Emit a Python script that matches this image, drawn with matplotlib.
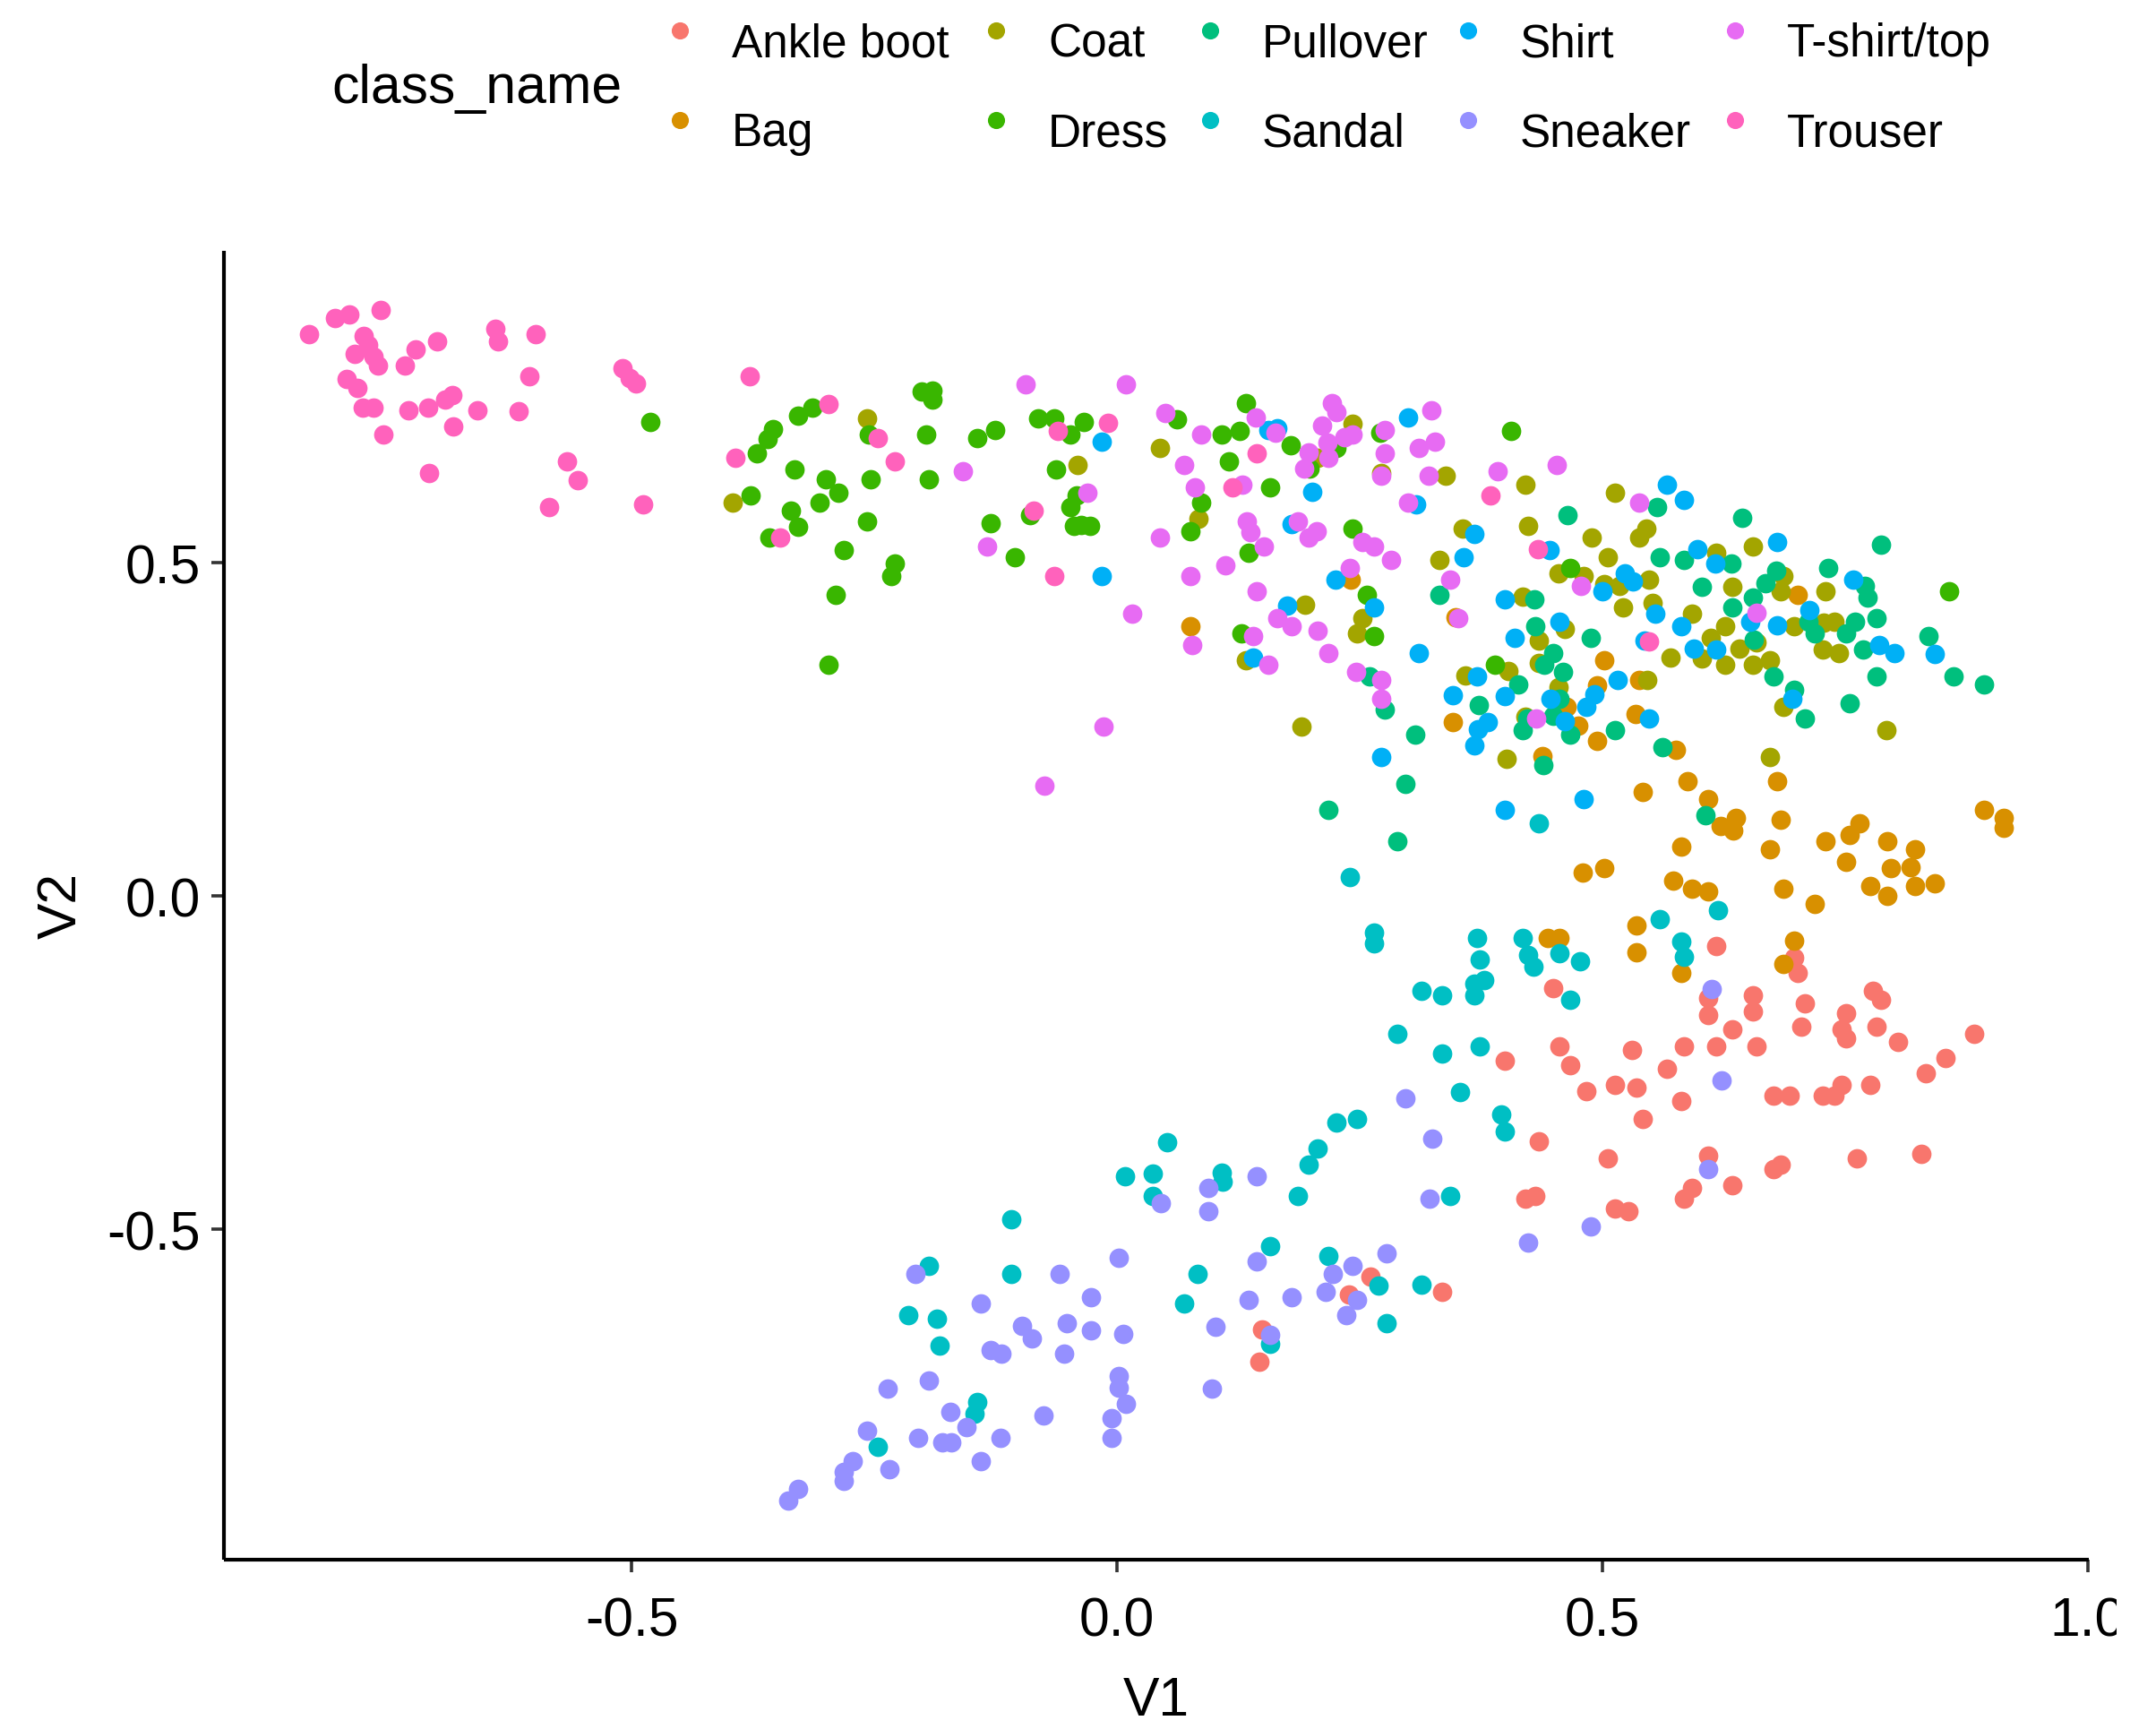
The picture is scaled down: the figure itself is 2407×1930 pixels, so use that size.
import matplotlib
matplotlib.use("Agg")
import matplotlib.pyplot as plt
from matplotlib import font_manager as fm
from matplotlib.transforms import Bbox
import numpy as np

# ---------------- data (V1, V2) per class ----------------
class_names = ["Ankle boot", "Bag", "Coat", "Dress", "Pullover",
               "Sandal", "Shirt", "Sneaker", "T-shirt/top", "Trouser"]
colors = ["#F8766D", "#D89000", "#A3A500", "#39B600", "#00BF7D",
          "#00BFC4", "#00B0F6", "#9590FF", "#E76BF3", "#FF62BC"]

ankle_boot = [
    (0.449, -0.138), (0.400, -0.247), (0.456, -0.225), (0.467, -0.253), (0.484, -0.292),
    (0.617, -0.074), (0.698, -0.092), (0.701, -0.115), (0.609, -0.153), (0.609, -0.178),
    (0.655, -0.149), (0.655, -0.173), (0.634, -0.200), (0.709, -0.160), (0.705, -0.196),
    (0.779, -0.142), (0.787, -0.155), (0.751, -0.176), (0.747, -0.200), (0.751, -0.213),
    (0.783, -0.196), (0.805, -0.218), (0.883, -0.206), (0.854, -0.243), (0.833, -0.265),
    (0.584, -0.225), (0.617, -0.225), (0.659, -0.225), (0.531, -0.231), (0.567, -0.259),
    (0.513, -0.283), (0.535, -0.287), (0.581, -0.307), (0.676, -0.299), (0.693, -0.299),
    (0.727, -0.299), (0.747, -0.283), (0.739, -0.299), (0.776, -0.283),
    (0.542, -0.334), (0.506, -0.393), (0.609, -0.389), (0.634, -0.433), (0.592, -0.437),
    (0.584, -0.454), (0.676, -0.409), (0.684, -0.403), (0.762, -0.393), (0.829, -0.386),
    (0.513, -0.468), (0.527, -0.473),
    (0.435, -0.367), (0.421, -0.454), (0.431, -0.450), (0.261, -0.570), (0.239, -0.598),
    (0.335, -0.594), (0.149, -0.650), (0.147, -0.698)]

bag = [
    (0.076, 0.405), (0.241, 0.475), (0.349, 0.418), (0.463, 0.284),
    (0.701, 0.452), (0.502, 0.354), (0.538, 0.324), (0.495, 0.316), (0.534, 0.273),
    (0.475, 0.256), (0.495, 0.233), (0.576, 0.220),
    (0.346, 0.261), (0.438, 0.210), (0.480, 0.036), (0.444, -0.062), (0.456, -0.062),
    (0.588, 0.173), (0.542, 0.157), (0.609, 0.146), (0.680, 0.173), (0.622, 0.105),
    (0.638, 0.117), (0.635, 0.099), (0.684, 0.115), (0.581, 0.075), (0.673, 0.070),
    (0.502, 0.042), (0.573, 0.023), (0.592, 0.012), (0.609, 0.008), (0.687, 0.012),
    (0.719, -0.011), (0.730, 0.082), (0.755, 0.092), (0.765, 0.110), (0.751, 0.052),
    (0.794, 0.082), (0.822, 0.070), (0.797, 0.042), (0.818, 0.043), (0.822, 0.016),
    (0.776, 0.016), (0.843, 0.020), (0.794, 0.001), (0.893, 0.129), (0.914, 0.117),
    (0.914, 0.103), (0.535, -0.044), (0.535, -0.084), (0.581, -0.115), (0.698, -0.066),
    (0.687, -0.102)]

coat = [
    (-0.396, 0.590), (-0.258, 0.717), (-0.041, 0.647),
    (0.044, 0.672), (0.243, 0.709), (0.207, 0.658), (0.272, 0.635), (0.339, 0.631),
    (0.084, 0.566), (0.421, 0.618), (0.356, 0.551), (0.424, 0.556), (0.489, 0.538),
    (0.332, 0.504), (0.455, 0.485), (0.481, 0.480), (0.194, 0.438), (0.253, 0.417),
    (0.247, 0.394), (0.418, 0.449), (0.133, 0.354), (0.435, 0.383), (0.461, 0.401),
    (0.435, 0.350), (0.359, 0.331), (0.403, 0.338), (0.455, 0.314),
    (0.513, 0.606), (0.545, 0.551), (0.538, 0.538), (0.506, 0.508), (0.502, 0.468),
    (0.518, 0.465), (0.521, 0.434), (0.548, 0.475), (0.552, 0.440), (0.592, 0.424),
    (0.617, 0.515), (0.655, 0.525), (0.634, 0.464), (0.627, 0.405), (0.612, 0.387),
    (0.603, 0.357), (0.570, 0.358), (0.627, 0.347), (0.641, 0.371), (0.659, 0.381),
    (0.655, 0.347), (0.673, 0.354), (0.687, 0.481), (0.684, 0.457), (0.698, 0.405),
    (0.730, 0.457), (0.739, 0.412), (0.728, 0.410), (0.727, 0.370), (0.744, 0.365),
    (0.546, 0.324), (0.687, 0.284), (0.793, 0.249),
    (0.190, 0.255), (0.401, 0.206), (0.421, 0.269), (0.673, 0.209)]

dress = [
    (-0.481, 0.712),
    (-0.314, 0.733), (-0.329, 0.721), (-0.355, 0.701), (-0.360, 0.686), (-0.371, 0.665),
    (-0.332, 0.641), (-0.378, 0.601), (-0.300, 0.625), (-0.287, 0.606), (-0.307, 0.590),
    (-0.336, 0.578), (-0.329, 0.554), (-0.358, 0.538), (-0.254, 0.625), (-0.258, 0.562),
    (-0.282, 0.520), (-0.229, 0.499), (-0.233, 0.480), (-0.290, 0.452), (-0.297, 0.347),
    (-0.256, 0.693), (-0.201, 0.757), (-0.190, 0.759), (-0.190, 0.745), (-0.197, 0.693),
    (-0.194, 0.625), (-0.144, 0.688), (-0.126, 0.700), (-0.130, 0.560), (-0.105, 0.509),
    (-0.090, 0.572), (-0.081, 0.717), (-0.065, 0.717), (-0.034, 0.712), (-0.048, 0.693),
    (-0.063, 0.641), (-0.042, 0.602), (-0.048, 0.584), (-0.044, 0.555), (-0.028, 0.555),
    (-0.037, 0.557),
    (0.133, 0.740), (0.062, 0.716), (0.108, 0.693), (0.126, 0.698), (0.115, 0.653),
    (0.179, 0.677), (0.226, 0.672), (0.198, 0.642), (0.271, 0.696), (0.158, 0.613),
    (0.087, 0.591), (0.076, 0.548), (0.136, 0.515), (0.243, 0.551), (0.257, 0.452),
    (0.265, 0.391), (0.128, 0.394), (0.406, 0.698), (0.467, 0.492), (0.389, 0.347),
    (0.857, 0.457)]

pullover = [
    (0.464, 0.572), (0.332, 0.452), (0.430, 0.445), (0.431, 0.405), (0.488, 0.387),
    (0.449, 0.365), (0.440, 0.347), (0.460, 0.336), (0.413, 0.318), (0.456, 0.296),
    (0.260, 0.330), (0.276, 0.280), (0.373, 0.287),
    (0.556, 0.584), (0.644, 0.568), (0.787, 0.527), (0.559, 0.509), (0.584, 0.504),
    (0.633, 0.499), (0.603, 0.464), (0.655, 0.448), (0.634, 0.434), (0.668, 0.470),
    (0.679, 0.488), (0.733, 0.492), (0.771, 0.465), (0.773, 0.448), (0.783, 0.417),
    (0.760, 0.412), (0.712, 0.412), (0.719, 0.394), (0.751, 0.394), (0.769, 0.370),
    (0.656, 0.385), (0.676, 0.330), (0.698, 0.310), (0.709, 0.267), (0.783, 0.330),
    (0.755, 0.290), (0.836, 0.390), (0.862, 0.330), (0.893, 0.318), (0.513, 0.249),
    (0.562, 0.224),
    (0.307, 0.243), (0.423, 0.267), (0.418, 0.249), (0.439, 0.197), (0.449, 0.271),
    (0.467, 0.243), (0.297, 0.169), (0.218, 0.129), (0.289, 0.082), (0.606, 0.122)]

sandal = [
    (0.435, 0.110), (0.240, 0.029), (0.265, -0.055), (0.265, -0.071), (0.371, -0.062),
    (0.418, -0.062), (0.456, -0.086), (0.374, -0.095), (0.424, -0.088), (0.429, -0.105),
    (0.477, -0.098), (0.378, -0.126), (0.368, -0.131), (0.368, -0.149), (0.314, -0.142),
    (0.335, -0.149), (0.467, -0.155), (0.289, -0.206), (0.335, -0.236), (0.374, -0.225),
    (0.353, -0.294),
    (0.559, -0.035), (0.619, -0.021), (0.581, -0.068), (0.584, -0.091),
    (0.226, -0.339), (0.247, -0.334), (0.396, -0.327), (0.400, -0.353),
    (0.052, -0.369), (0.207, -0.379), (0.197, -0.403), (0.037, -0.416), (0.108, -0.414),
    (0.109, -0.428), (0.037, -0.449), (0.186, -0.450), (0.343, -0.449), (0.158, -0.525),
    (0.083, -0.566), (0.069, -0.611), (0.218, -0.540), (0.269, -0.584), (0.314, -0.582),
    (0.278, -0.641), (0.158, -0.672),
    (0.008, -0.420), (-0.109, -0.484), (-0.194, -0.554), (-0.109, -0.566), (-0.215, -0.629),
    (-0.186, -0.634), (-0.183, -0.674), (-0.144, -0.759), (-0.147, -0.776), (-0.247, -0.826)]

shirt = [
    (-0.016, 0.682), (-0.016, 0.480),
    (0.156, 0.700), (0.165, 0.702), (0.300, 0.718), (0.308, 0.588), (0.201, 0.607),
    (0.180, 0.558), (0.225, 0.475), (0.265, 0.434), (0.175, 0.436), (0.140, 0.358),
    (0.311, 0.365), (0.368, 0.544), (0.357, 0.509), (0.446, 0.520), (0.400, 0.445),
    (0.456, 0.412), (0.410, 0.387), (0.371, 0.330), (0.346, 0.302), (0.400, 0.300),
    (0.447, 0.296),
    (0.567, 0.618), (0.584, 0.595), (0.598, 0.521), (0.616, 0.499), (0.680, 0.532),
    (0.523, 0.484), (0.532, 0.472), (0.500, 0.457), (0.555, 0.424), (0.581, 0.405),
    (0.594, 0.371), (0.617, 0.370), (0.652, 0.412), (0.680, 0.406), (0.713, 0.429),
    (0.759, 0.475), (0.785, 0.377), (0.801, 0.365), (0.843, 0.363), (0.544, 0.383),
    (0.516, 0.324), (0.492, 0.303), (0.484, 0.284), (0.548, 0.267), (0.696, 0.296),
    (0.382, 0.261), (0.372, 0.251), (0.368, 0.227), (0.461, 0.263), (0.272, 0.209),
    (0.400, 0.129), (0.481, 0.146)]

sneaker = [
    (0.297, -0.303), (0.613, -0.139), (0.623, -0.276), (0.609, -0.409), (0.488, -0.495),
    (0.325, -0.363), (0.144, -0.420), (0.094, -0.437), (0.045, -0.461), (0.094, -0.473),
    (0.322, -0.454), (0.424, -0.519), (0.144, -0.548), (0.136, -0.606), (0.180, -0.601),
    (0.222, -0.566), (0.243, -0.554), (0.278, -0.536), (0.215, -0.594), (0.247, -0.606),
    (0.236, -0.629), (0.101, -0.646), (0.158, -0.658), (0.098, -0.739),
    (0.002, -0.542), (-0.208, -0.566), (-0.059, -0.566), (-0.027, -0.601), (-0.140, -0.611),
    (-0.098, -0.645), (-0.088, -0.663), (-0.052, -0.641), (-0.027, -0.651), (0.006, -0.657),
    (-0.055, -0.686), (-0.130, -0.681), (-0.119, -0.686), (-0.236, -0.739), (-0.194, -0.727),
    (0.002, -0.720), (0.002, -0.737), (0.009, -0.761), (-0.076, -0.779), (-0.172, -0.773),
    (-0.155, -0.796), (-0.006, -0.783), (-0.006, -0.812), (-0.120, -0.812), (-0.205, -0.812),
    (-0.180, -0.819), (-0.171, -0.819), (-0.258, -0.802), (-0.140, -0.848), (-0.235, -0.859),
    (-0.272, -0.848), (-0.282, -0.863), (-0.282, -0.877), (-0.329, -0.889), (-0.339, -0.906)]

tshirt_top = [
    (-0.094, 0.768), (0.009, 0.768), (-0.159, 0.637), (-0.134, 0.525), (-0.031, 0.606),
    (0.016, 0.424),
    (0.050, 0.725), (0.087, 0.693), (0.069, 0.647), (0.080, 0.613), (0.143, 0.718),
    (0.163, 0.696), (0.129, 0.618), (0.044, 0.538), (0.134, 0.562), (0.137, 0.546),
    (0.151, 0.525), (0.112, 0.497), (0.076, 0.480), (0.144, 0.457), (0.221, 0.740),
    (0.226, 0.727), (0.211, 0.706), (0.217, 0.680), (0.197, 0.666), (0.218, 0.658),
    (0.193, 0.642), (0.243, 0.693), (0.234, 0.689), (0.276, 0.700), (0.276, 0.665),
    (0.272, 0.631), (0.324, 0.729), (0.311, 0.672), (0.328, 0.682), (0.321, 0.631),
    (0.300, 0.590), (0.186, 0.562), (0.206, 0.548), (0.197, 0.538), (0.253, 0.532),
    (0.265, 0.525), (0.282, 0.504), (0.240, 0.492), (0.343, 0.475), (0.165, 0.417),
    (0.180, 0.405), (0.207, 0.399), (0.140, 0.390), (0.077, 0.377), (0.218, 0.365),
    (0.156, 0.347), (0.246, 0.336), (0.272, 0.324), (0.272, 0.296), (0.352, 0.417),
    (0.392, 0.637), (0.453, 0.647), (0.478, 0.465),
    (0.538, 0.591), (0.659, 0.425), (0.432, 0.267), (-0.075, 0.166), (-0.014, 0.255)]

trouser = [
    (-0.833, 0.843), (-0.806, 0.867), (-0.791, 0.873), (-0.759, 0.879), (-0.776, 0.840),
    (-0.786, 0.814), (-0.772, 0.827), (-0.766, 0.810), (-0.762, 0.796), (-0.794, 0.776),
    (-0.783, 0.763), (-0.777, 0.733), (-0.766, 0.733), (-0.756, 0.693), (-0.734, 0.796),
    (-0.723, 0.820), (-0.701, 0.832), (-0.730, 0.729), (-0.710, 0.733), (-0.692, 0.745),
    (-0.685, 0.752), (-0.684, 0.705), (-0.659, 0.729), (-0.709, 0.635), (-0.641, 0.851),
    (-0.638, 0.832), (-0.599, 0.843), (-0.606, 0.780), (-0.617, 0.728), (-0.567, 0.653),
    (-0.556, 0.624), (-0.585, 0.584), (-0.510, 0.792), (-0.502, 0.778), (-0.496, 0.769),
    (-0.488, 0.588),
    (-0.379, 0.780), (-0.297, 0.739), (-0.393, 0.658), (-0.247, 0.688), (-0.229, 0.653),
    (-0.347, 0.538), (-0.009, 0.710), (-0.061, 0.698), (-0.086, 0.579), (-0.065, 0.480),
    (0.144, 0.665), (0.119, 0.613), (0.385, 0.602), (0.434, 0.521), (0.548, 0.382)]

series = [ankle_boot, bag, coat, dress, pullover, sandal, shirt, sneaker, tshirt_top, trouser]

x_ticks = [-0.5, 0.0, 0.5, 1.0]
x_tick_labels = ["-0.5", "0.0", "0.5", "1.0"]
y_ticks = [-0.5, 0.0, 0.5]
y_tick_labels = ["-0.5", "0.0", "0.5"]

# ---------------- fonts ----------------
names = {f.name for f in fm.fontManager.ttflist}
if "Liberation Sans Narrow" in names:
    FONT, k = "Liberation Sans Narrow", 1.0
else:
    FONT, k = "Liberation Sans", 0.84
plt.rcParams["font.family"] = [FONT, "DejaVu Sans"]

# ---------------- figure ----------------
W, H, DPI = 2407, 1931, 100
fig = plt.figure(figsize=(W / DPI, H / DPI), dpi=DPI)
fig.patch.set_facecolor("white")

L, R, T, B = 250, 2332, 281, 1742
ax = fig.add_axes([L / W, 1 - B / H, (R - L) / W, (B - T) / H])

for pts, col in zip(series, colors):
    arr = np.array(pts)
    ax.scatter(arr[:, 0], arr[:, 1], s=245, c=col, linewidths=0, zorder=3)

allpts = np.vstack([np.array(p) for p in series])
xmin, xmax = allpts[:, 0].min(), allpts[:, 0].max()
ymin, ymax = allpts[:, 1].min(), allpts[:, 1].max()
xp, yp = 0.05 * (xmax - xmin), 0.05 * (ymax - ymin)
ax.set_xlim(xmin - xp, xmax + xp)
ax.set_ylim(ymin - yp, ymax + yp)

for s in ["top", "right"]:
    ax.spines[s].set_visible(False)
for s in ["left", "bottom"]:
    ax.spines[s].set_linewidth(3.0)
    ax.spines[s].set_color("black")
    ax.spines[s].set_capstyle("butt")

ax.set_xticks(x_ticks)
ax.set_xticklabels(x_tick_labels)
ax.set_yticks(y_ticks)
ax.set_yticklabels(y_tick_labels)
ax.tick_params(axis="both", length=10, width=2.6, color="#333333",
               labelsize=52 * k, labelcolor="black")
ax.tick_params(axis="x", pad=19)
ax.tick_params(axis="y", pad=9)
ax.set_facecolor("white")

# the reference output is cut off just right of the last x tick label
clip = Bbox.from_extents(0, 0, 2363, H)
for lab in ax.get_xticklabels():
    lab.set_clip_box(clip)
    lab.set_clip_on(True)

fig.text(1291 / W, 1 - 1900 / H, "V1", ha="center", va="center", fontsize=52 * k)
fig.text(69 / W, 1 - 1011 / H, "V2", ha="center", va="center", rotation=90, fontsize=52 * k)

# ---------------- legend ----------------
lax = fig.add_axes([0, 0, 1, 1])
lax.set_xlim(0, W)
lax.set_ylim(H, 0)
lax.axis("off")
lax.patch.set_alpha(0)

lax.text(370, 115, "class_name", ha="left", va="baseline", fontsize=52 * k)
dot_x = [759, 1112, 1351, 1639, 1937]
dot_y = [35, 135]
text_base = [63, 163]
for i, (nm, col) in enumerate(zip(class_names, colors)):
    c, r = i // 2, i % 2
    lax.scatter([dot_x[c]], [dot_y[r]], s=190, c=col, linewidths=0)
    lax.text(dot_x[c] + 58, text_base[r], nm, ha="left", va="baseline", fontsize=44 * k)

fig.savefig("out.png", dpi=DPI, facecolor="white")
